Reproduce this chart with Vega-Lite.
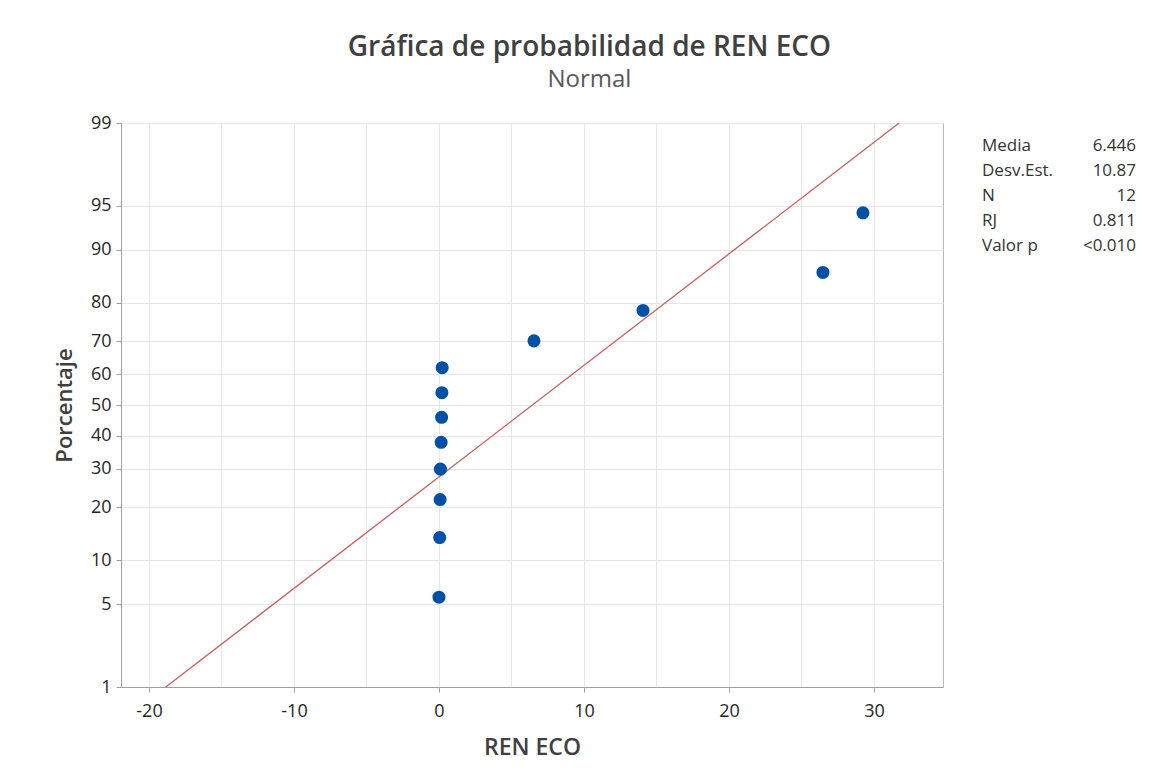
{
  "$schema": "https://vega.github.io/schema/vega-lite/v6.json",
  "background": "white",
  "padding": {"left": 52, "top": 33, "right": 10, "bottom": 10},
  "title": {
    "text": "Gráfica de probabilidad de REN ECO",
    "subtitle": "Normal",
    "anchor": "middle",
    "dx": -5,
    "font": "Open Sans",
    "fontSize": 28,
    "fontWeight": 600,
    "color": "#404040",
    "subtitleFont": "Open Sans",
    "subtitleFontSize": 24,
    "subtitleColor": "#595959",
    "subtitlePadding": 6,
    "offset": 22
  },
  "datasets": {
    "pts": [
      {"ren": 0.0, "pct": 5.645, "z": -1.5853},
      {"ren": 0.05, "pct": 13.710, "z": -1.0935},
      {"ren": 0.08, "pct": 21.774, "z": -0.7799},
      {"ren": 0.10, "pct": 29.839, "z": -0.5290},
      {"ren": 0.15, "pct": 37.903, "z": -0.3080},
      {"ren": 0.18, "pct": 45.968, "z": -0.1012},
      {"ren": 0.20, "pct": 54.032, "z": 0.1012},
      {"ren": 0.22, "pct": 62.097, "z": 0.3080},
      {"ren": 6.55, "pct": 70.161, "z": 0.5290},
      {"ren": 14.07, "pct": 78.226, "z": 0.7799},
      {"ren": 26.48, "pct": 86.290, "z": 1.0935},
      {"ren": 29.24, "pct": 94.355, "z": 1.5853}
    ],
    "fit": [
      {"ren": -18.841, "pct": 1, "z": -2.3263},
      {"ren": 31.733, "pct": 99, "z": 2.3263}
    ],
    "stats": [
      {"stat": "Media", "val": "6.446"},
      {"stat": "Desv.Est.", "val": "10.87"},
      {"stat": "N", "val": "12"},
      {"stat": "RJ", "val": "0.811"},
      {"stat": "Valor p", "val": "<0.010"}
    ]
  },
  "config": {
    "font": "Open Sans",
    "view": {"stroke": "#b8b8b8", "strokeWidth": 1}
  },
  "spacing": 38,
  "hconcat": [
    {
      "width": 822,
      "height": 564,
      "encoding": {
        "x": {
          "field": "ren",
          "type": "quantitative",
          "title": "REN ECO",
          "scale": {"domain": [-21.93, 34.76], "nice": false, "zero": false},
          "axis": {
            "values": [-20, -15, -10, -5, 0, 5, 10, 15, 20, 25, 30],
            "labelExpr": "datum.value % 10 === 0 ? '' + datum.value : ''",
            "tickOpacity": {"condition": {"test": "datum.value % 10 === 0", "value": 1}, "value": 0},
            "tickSize": 5,
            "tickColor": "#a0a0a0",
            "domainColor": "#a0a0a0",
            "gridColor": "#e6e6e6",
            "labelFontSize": 18,
            "labelColor": "#262626",
            "labelPadding": 10,
            "labelFlush": false,
            "titleFontSize": 23,
            "titleFontWeight": 600,
            "titleColor": "#404040",
            "titlePadding": 16
          }
        },
        "y": {
          "field": "z",
          "type": "quantitative",
          "title": "Porcentaje",
          "scale": {"domain": [-2.3263, 2.3263], "nice": false, "zero": false},
          "axis": {
            "values": [-2.3263, -1.6449, -1.2816, -0.8416, -0.5244, -0.2533, 0, 0.2533, 0.5244, 0.8416, 1.2816, 1.6449, 2.3263],
            "labelExpr": "format(100 * cumulativeNormal(datum.value), '.0f')",
            "tickSize": 5,
            "tickColor": "#a0a0a0",
            "domainColor": "#a0a0a0",
            "gridColor": "#e6e6e6",
            "labelFontSize": 18,
            "labelColor": "#262626",
            "labelPadding": 5,
            "labelFlush": false,
            "titleFontSize": 22,
            "titleFontWeight": 600,
            "titleColor": "#404040",
            "titlePadding": 14
          }
        }
      },
      "layer": [
        {
          "data": {"name": "fit"},
          "mark": {"type": "line", "color": "#c0605d", "strokeWidth": 1.3}
        },
        {
          "data": {"name": "pts"},
          "mark": {"type": "circle", "color": "#0050a6", "opacity": 1, "size": 170}
        }
      ]
    },
    {
      "data": {"name": "stats"},
      "width": 154,
      "height": 146,
      "view": {"stroke": null},
      "encoding": {
        "y": {"field": "stat", "type": "nominal", "sort": null, "axis": null, "scale": {"type": "point", "padding": 0.92}}
      },
      "layer": [
        {
          "mark": {"type": "text", "align": "left", "baseline": "middle", "fontSize": 17, "color": "#333333"},
          "encoding": {
            "x": {"datum": 0, "type": "quantitative", "axis": null, "scale": {"domain": [0, 1]}},
            "text": {"field": "stat"}
          }
        },
        {
          "mark": {"type": "text", "align": "right", "baseline": "middle", "fontSize": 17, "color": "#333333"},
          "encoding": {
            "x": {"datum": 1, "type": "quantitative", "axis": null, "scale": {"domain": [0, 1]}},
            "text": {"field": "val"}
          }
        }
      ]
    }
  ]
}
